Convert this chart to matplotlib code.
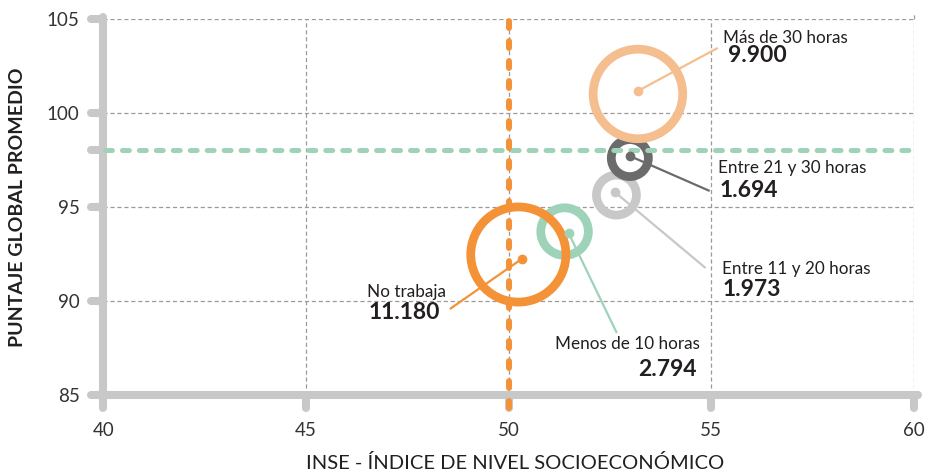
import numpy as np
import matplotlib
matplotlib.use('Agg')
import matplotlib.pyplot as plt

plt.rcParams.update({
    'font.family': ['Lato', 'DejaVu Sans'],
    'lines.scale_dashes': False,
    'figure.dpi': 100,
})

# ── Data ───────────────────────────────────────────────────────────────
grupos = ['No trabaja', 'Menos de 10 horas', 'Entre 11 y 20 horas',
          'Entre 21 y 30 horas', 'Más de 30 horas']
n_alumnos = [11180, 2794, 1973, 1694, 9900]
etiquetas_n = ['11.180', '2.794', '1.973', '1.694', '9.900']
inse = [50.32, 51.48, 52.62, 52.99, 53.19]
puntaje = [92.25, 93.63, 95.81, 97.73, 101.19]
inse_burbuja = [50.24, 51.38, 52.66, 52.99, 53.19]
puntaje_burbuja = [92.49, 93.71, 95.65, 97.62, 101.03]
inse_media = 50.0
puntaje_media = 98.07

x_ticks = [40, 45, 50, 55, 60]
y_ticks = [85, 90, 95, 100, 105]

# ── Layout / style ─────────────────────────────────────────────────────
COLORES = ['#F39237', '#9ED3BA', '#C8C8C8', '#6B6B6B', '#F5BE8E']
GRIS_EJE = '#C8C8C8'
TEXTO = '#231F20'
FIN_LINEA = [(48.55, 89.59), (52.67, 88.31), (54.86, 91.77),
             (54.96, 95.87), (55.16, 103.48)]
POS_TEXTO = [(48.45, 90.23, 'right'), (54.71, 87.48, 'right'),
             (55.26, 91.45, 'left'), (55.16, 96.82, 'left'),
             (55.28, 103.74, 'left')]
POS_NUM = [(48.30, 89.38, 'right'), (54.64, 86.35, 'right'),
           (55.28, 90.63, 'left'), (55.21, 95.92, 'left'),
           (55.40, 103.05, 'left')]

fig = plt.figure(figsize=(9.33, 4.76))
ax = fig.add_axes([0.1107, 0.1695, 0.8689, 0.7899])
ax.set_xlim(40, 60)
ax.set_ylim(85, 105)
for s in ax.spines.values():
    s.set_visible(False)

# grid
ax.set_xticks(x_ticks)
ax.set_yticks(y_ticks)
ax.grid(True, color='#9A9A9A', linewidth=0.9, linestyle=(0, (3, 2)), zorder=0)
ax.set_axisbelow(True)
ax.tick_params(length=0, labelsize=13.5, labelcolor='#333333')
ax.tick_params(axis='y', pad=17)
ax.tick_params(axis='x', pad=19)
ax.plot([60, 60], [105, 105.3], color='#9A9A9A', lw=0.9,
        linestyle=(0, (3, 2)), clip_on=False, zorder=0)

# axis lines with rounded ticks
kw_eje = dict(color=GRIS_EJE, lw=5.8, solid_capstyle='round', clip_on=False, zorder=2)
ax.plot([40, 40], [85, 105.14], **kw_eje)
ax.plot([40, 60.1], [85, 85], **kw_eje)
for yt in y_ticks + [puntaje_media]:
    ax.plot([39.7, 40], [yt, yt], **kw_eje)
for xt in x_ticks:
    ax.plot([xt, xt], [84.32, 85], **kw_eje)

# bubbles
orden = [1, 0, 2, 3, 4]
for i in orden:
    ax.scatter(inse_burbuja[i], puntaje_burbuja[i], s=n_alumnos[i] * 0.42,
               facecolors='none', edgecolors=COLORES[i], linewidths=6.3,
               zorder=3, clip_on=False)

# mean lines
ax.plot([40.05, 60.1], [puntaje_media, puntaje_media], color='#9ED3BA', lw=3.6,
        linestyle=(0, (5, 7.2)), dash_capstyle='round', clip_on=False, zorder=4)
ax.plot([inse_media, inse_media], [84.3, 105.25], color='#F39237', lw=4.3,
        linestyle=(0, (5, 9.4)), dash_capstyle='round', clip_on=False, zorder=4)

# leader lines, dots and labels
for i, g in enumerate(grupos):
    ax.plot([inse[i], FIN_LINEA[i][0]], [puntaje[i], FIN_LINEA[i][1]],
            color=COLORES[i], lw=1.6, zorder=5, solid_capstyle='butt')
    ax.plot(inse[i], puntaje[i], 'o', color=COLORES[i], markersize=6, zorder=6)
    tx, ty, ha = POS_TEXTO[i]
    ax.text(tx, ty, g, ha=ha, va='baseline', fontsize=12.3, color=TEXTO, zorder=7)
    nx, ny, nha = POS_NUM[i]
    ax.text(nx, ny, etiquetas_n[i], ha=nha, va='center', fontsize=16.5,
            fontweight='bold', color=TEXTO, zorder=7)

fig.text(18 / 933, 0.565, 'PUNTAJE GLOBAL PROMEDIO', rotation=90, ha='center',
         va='center', fontsize=14, fontweight='bold', color=TEXTO)
fig.text(515 / 933, 1 - 463 / 476, 'INSE - ÍNDICE DE NIVEL SOCIOECONÓMICO',
         ha='center', va='center', fontsize=14.5, color=TEXTO)

fig.savefig('out.png', dpi=100)
